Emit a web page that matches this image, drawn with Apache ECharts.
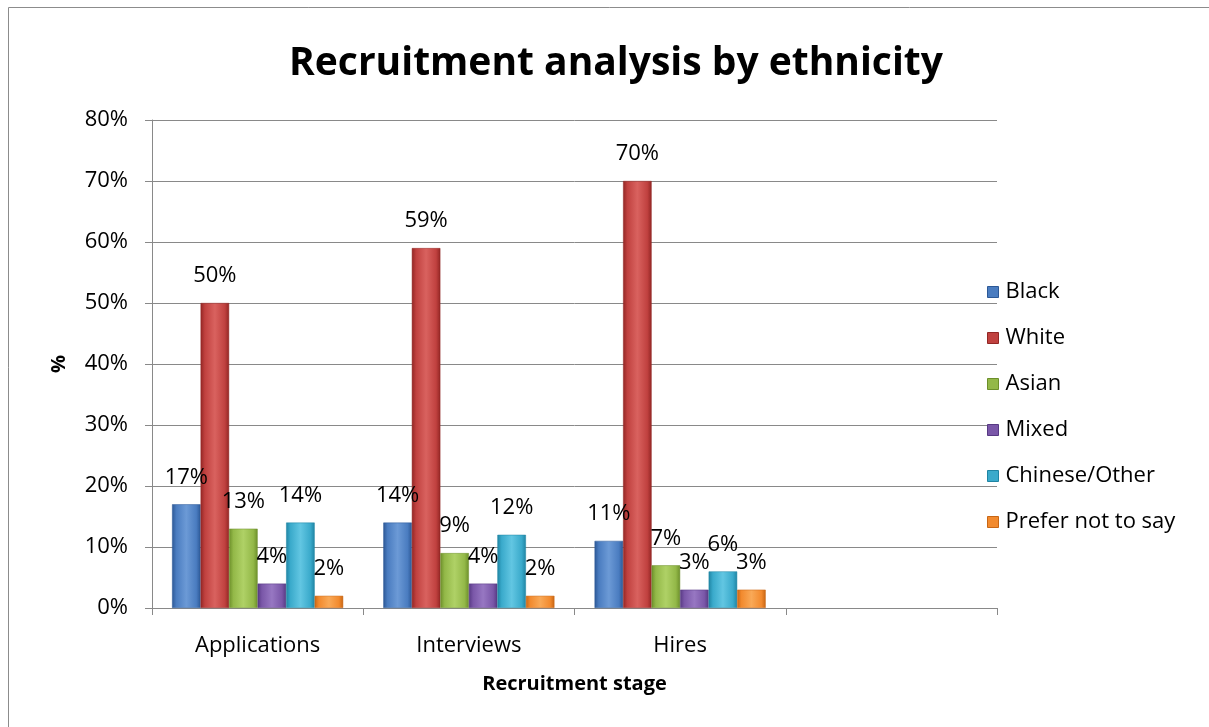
<!DOCTYPE html>
<html>
<head>
<meta charset="utf-8">
<title>Recruitment analysis by ethnicity</title>
<script src="https://cdn.jsdelivr.net/npm/echarts@6/dist/echarts.min.js"></script>
<style>
  html, body { margin: 0; padding: 0; background: #ffffff; }
  #chart { width: 1209px; height: 727px; }
</style>
</head>
<body>
<div id="chart"></div>
<script>
// Recruitment stages (the fourth slot is left empty on the axis)
const stages = ['Applications', 'Interviews', 'Hires', ''];
const yTicks = [0, 10, 20, 30, 40, 50, 60, 70, 80];

// Share of each ethnicity at every stage, in percent
const black = [17, 14, 11];
const white = [50, 59, 70];
const asian = [13, 9, 7];
const mixed = [4, 4, 3];
const chineseOther = [14, 12, 6];
const preferNotToSay = [2, 2, 3];

const groups = [
  { name: 'Black', data: black, base: '#4A7CC0', light: '#6C9AD6', dark: '#2C5896' },
  { name: 'White', data: white, base: '#C0413F', light: '#D9625F', dark: '#922624' },
  { name: 'Asian', data: asian, base: '#93B848', light: '#AFD166', dark: '#6C8F2A' },
  { name: 'Mixed', data: mixed, base: '#7A57A8', light: '#9777C2', dark: '#573983' },
  { name: 'Chinese/Other', data: chineseOther, base: '#3AAACB', light: '#62C6E2', dark: '#1F84A3' },
  { name: 'Prefer not to say', data: preferNotToSay, base: '#F28A2E', light: '#F9A957', dark: '#C86614' }
];

const FONT = '"Open Sans", Lato, "Noto Sans", sans-serif';
const AXIS_GREY = '#898989';

// Rounded, bevelled look: dark edges, lighter centre
function bevel(g) {
  return new echarts.graphic.LinearGradient(0, 0, 1, 0, [
    { offset: 0, color: g.dark },
    { offset: 0.15, color: g.base },
    { offset: 0.5, color: g.light },
    { offset: 0.85, color: g.base },
    { offset: 1, color: g.dark }
  ]);
}

const chart = echarts.init(document.getElementById('chart'), null, { renderer: 'canvas' });

const option = {
  backgroundColor: '#ffffff',
  animation: false,
  textStyle: { fontFamily: FONT },
  title: {
    text: 'Recruitment analysis by ethnicity',
    left: 611,
    textAlign: 'center',
    top: 39,
    textStyle: { fontFamily: FONT, fontSize: 39, fontWeight: 'bold', color: '#000000' }
  },
  legend: {
    orient: 'vertical',
    left: 982,
    top: 276,
    itemWidth: 11,
    itemHeight: 11,
    itemGap: 24,
    icon: 'rect',
    textStyle: { fontFamily: FONT, fontSize: 22, color: '#000000', lineHeight: 22, padding: [0, 0, 0, 2] },
    data: groups.map(g => ({ name: g.name, itemStyle: { color: g.base, borderColor: g.dark, borderWidth: 1 } }))
  },
  grid: { left: 152, right: 212, top: 120, bottom: 119, containLabel: false },
  xAxis: {
    type: 'category',
    data: stages,
    boundaryGap: true,
    name: 'Recruitment stage',
    nameLocation: 'middle',
    nameGap: 66,
    nameTextStyle: { fontFamily: FONT, fontSize: 20, fontWeight: 'bold', color: '#000000' },
    axisLine: { lineStyle: { color: AXIS_GREY, width: 1 } },
    axisTick: { show: true, length: 7, alignWithLabel: false, lineStyle: { color: AXIS_GREY } },
    axisLabel: { fontFamily: FONT, fontSize: 22, color: '#000000', margin: 27 },
    splitLine: { show: false }
  },
  yAxis: {
    type: 'value',
    min: 0,
    max: 80,
    interval: 10,
    name: '%',
    nameLocation: 'middle',
    nameGap: 83,
    nameRotate: 90,
    nameTextStyle: { fontFamily: FONT, fontSize: 20, fontWeight: 'bold', color: '#000000' },
    axisLine: { show: true, lineStyle: { color: AXIS_GREY, width: 1 } },
    axisTick: { show: true, length: 7, lineStyle: { color: AXIS_GREY } },
    axisLabel: {
      fontFamily: FONT, fontSize: 22, color: '#000000', margin: 24,
      formatter: v => (yTicks.includes(v) ? v + '%' : '')
    },
    splitLine: { show: true, lineStyle: { color: AXIS_GREY, width: 1 } }
  },
  series: groups.map(g => ({
    name: g.name,
    type: 'bar',
    data: g.data,
    barGap: '0%',
    barCategoryGap: '19%',
    itemStyle: { color: bevel(g), borderColor: g.dark, borderWidth: 0.5 },
    label: {
      show: true,
      position: 'top',
      distance: 16,
      fontFamily: FONT,
      fontSize: 22,
      color: '#000000',
      formatter: p => p.value + '%'
    }
  })),
  graphic: [
    {
      type: 'rect',
      silent: true,
      z: -10,
      shape: { x: 8.5, y: 7.5, width: 1230, height: 760 },
      style: { fill: 'none', stroke: '#8c8c8c', lineWidth: 1 }
    }
  ]
};

chart.setOption(option);
</script>
</body>
</html>
